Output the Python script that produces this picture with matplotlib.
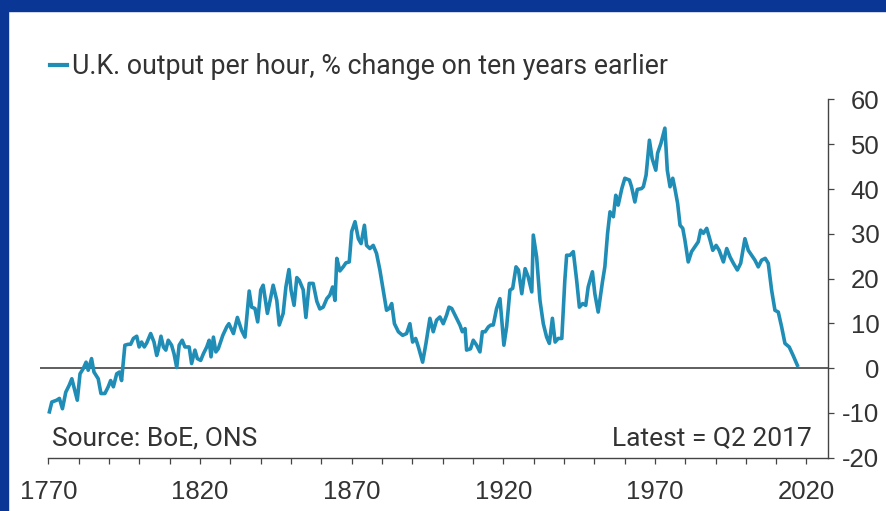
import matplotlib
matplotlib.use("Agg")
import matplotlib.pyplot as plt
from matplotlib.patches import Rectangle
from matplotlib.lines import Line2D

plt.rcParams['axes.unicode_minus'] = False

years = [1770.3, 1771.1, 1772.7, 1773.6, 1774.6, 1775.7, 1776.8, 1777.7, 1779.5, 1780.4,
         1781.5, 1782.4, 1783.1, 1784.2, 1785.0, 1786.4, 1787.3, 1788.6, 1789.7, 1790.5,
         1791.4, 1792.5, 1793.4, 1794.1, 1795.2, 1796.3, 1797.1, 1798.0, 1799.1, 1799.9,
         1800.7, 1801.6, 1802.4, 1803.7, 1804.8, 1805.7, 1806.2, 1807.1, 1807.9, 1808.7,
         1809.5, 1810.6, 1811.4, 1812.3, 1813.1, 1814.1, 1815.0, 1816.4, 1817.2, 1818.3,
         1819.1, 1820.2, 1821.1, 1822.2, 1823.0, 1823.6, 1824.4, 1825.2, 1826.0, 1827.5,
         1828.8, 1829.5, 1831.0, 1832.3, 1833.7, 1834.8, 1836.2, 1837.0, 1838.1, 1839.0,
         1840.0, 1840.8, 1842.2, 1843.1, 1844.1, 1845.3, 1846.1, 1847.4, 1848.3, 1849.3,
         1850.0, 1851.0, 1851.9, 1852.7, 1854.0, 1854.9, 1856.0, 1857.3, 1858.5, 1859.5,
         1860.6, 1861.8, 1862.8, 1863.7, 1864.5, 1865.1, 1866.1, 1867.2, 1868.1, 1869.2,
         1870.0, 1871.1, 1872.2, 1873.1, 1874.2, 1874.9, 1876.0, 1877.1, 1878.2, 1879.3,
         1880.4, 1881.5, 1882.4, 1883.2, 1884.1, 1885.4, 1886.8, 1888.1, 1889.2, 1890.1,
         1891.1, 1892.0, 1893.4, 1894.5, 1895.8, 1896.9, 1898.0, 1899.1, 1900.2, 1901.3,
         1902.1, 1903.0, 1904.1, 1905.2, 1905.7, 1906.5, 1907.4, 1907.9, 1909.2, 1910.1,
         1911.2, 1912.3, 1913.1, 1914.0, 1915.1, 1915.9, 1916.7, 1917.8, 1918.9, 1920.2,
         1921.1, 1922.2, 1923.1, 1924.2, 1925.0, 1926.1, 1927.2, 1928.2, 1929.4, 1929.9,
         1931.0, 1932.1, 1933.2, 1934.3, 1935.2, 1936.2, 1937.1, 1938.1, 1939.3, 1940.3,
         1940.9, 1942.0, 1943.1, 1944.2, 1945.1, 1946.2, 1947.2, 1948.0, 1949.4, 1950.2,
         1951.3, 1952.7, 1953.5, 1954.4, 1955.2, 1956.3, 1957.1, 1957.9, 1959.1, 1960.1,
         1961.6, 1962.3, 1963.4, 1964.2, 1965.6, 1966.2, 1967.1, 1968.2, 1969.1, 1970.3,
         1970.9, 1972.0, 1973.3, 1974.1, 1975.0, 1975.9, 1976.6, 1977.5, 1978.3, 1979.2,
         1979.9, 1981.0, 1982.1, 1983.2, 1984.3, 1985.1, 1986.0, 1987.1, 1988.2, 1989.1,
         1990.2, 1991.2, 1992.6, 1993.7, 1994.8, 1995.9, 1997.2, 1998.3, 1999.7, 2000.8,
         2001.9, 2003.0, 2004.1, 2005.2, 2006.4, 2007.4, 2008.5, 2009.6, 2010.7, 2011.8,
         2012.9, 2014.3, 2015.6, 2017.0]

values = [-9.8, -7.6, -7.2, -6.8, -9.1, -5.4, -3.9, -2.4, -7.2, -1.3,
          -0.1, 1.3, -0.5, 2.1, -0.9, -2.4, -5.7, -5.7, -4.2, -2.8,
          -4.2, -1.3, -0.9, -2.8, 5.1, 5.3, 5.3, 6.6, 7.1, 4.7,
          5.8, 4.7, 5.6, 7.7, 5.8, 2.8, 4.0, 7.1, 4.7, 4.0,
          6.2, 5.1, 3.2, 0.1, 5.1, 6.2, 4.7, 4.7, 1.0, 4.0,
          2.1, 1.7, 3.2, 4.7, 6.2, 2.5, 6.9, 3.6, 4.3, 7.3,
          9.2, 9.9, 7.7, 11.3, 8.4, 6.9, 17.2, 13.6, 13.3, 10.3,
          17.4, 18.5, 12.2, 15.1, 18.5, 15.1, 9.6, 12.2, 18.1, 22.0,
          17.4, 14.0, 20.2, 19.6, 17.5, 11.3, 18.9, 18.9, 14.9, 13.2,
          13.6, 15.5, 16.3, 18.1, 15.1, 24.5, 21.7, 22.6, 23.5, 23.7,
          30.5, 32.7, 28.9, 27.8, 31.9, 27.4, 26.7, 27.4, 25.6, 21.9,
          17.4, 12.9, 13.3, 14.4, 9.9, 8.1, 7.3, 7.7, 9.9, 5.8,
          6.6, 4.7, 1.3, 5.5, 11.1, 8.1, 10.7, 11.4, 9.9, 11.8,
          13.6, 13.3, 11.8, 10.3, 9.6, 8.1, 8.8, 4.0, 4.3, 6.2,
          5.1, 3.6, 8.1, 8.1, 9.2, 9.6, 9.6, 13.3, 15.5, 5.1,
          9.2, 17.4, 17.8, 22.6, 21.9, 16.6, 22.2, 20.4, 17.0, 29.7,
          24.8, 15.1, 9.9, 6.9, 5.5, 11.1, 5.8, 6.6, 6.6, 19.6,
          25.2, 25.2, 26.0, 19.6, 13.6, 14.4, 14.0, 18.1, 21.5, 16.6,
          12.5, 19.2, 22.6, 30.1, 34.9, 33.8, 38.6, 36.4, 40.1, 42.4,
          42.0, 40.5, 37.1, 39.9, 40.1, 40.5, 43.1, 50.9, 46.8, 44.2,
          48.0, 50.2, 53.6, 44.2, 40.5, 42.4, 40.1, 36.8, 31.9, 31.2,
          28.6, 23.7, 26.0, 27.1, 28.2, 30.8, 30.1, 31.2, 28.6, 26.3,
          27.4, 26.3, 23.7, 26.7, 24.8, 23.4, 21.9, 23.4, 28.9, 26.3,
          25.2, 24.1, 22.6, 24.1, 24.5, 23.4, 17.4, 12.9, 12.5, 9.2,
          5.5, 4.7, 2.8, 0.6]

x_ticks_minor = list(range(1770, 2021, 10))
x_tick_labels = [1770, 1820, 1870, 1920, 1970, 2020]
y_ticks = [-20, -10, 0, 10, 20, 30, 40, 50, 60]

series_label = "U.K. output per hour, % change on ten years earlier"
source_text = "Source: BoE, ONS"
latest_text = "Latest = Q2 2017"

LINE = '#1f8db6'
TXT = '#333333'
NARROW = ['Roboto', 'DejaVu Sans']

W, H = 886, 511
fig = plt.figure(figsize=(W / 100, H / 100), dpi=100, facecolor='white')

# blue frame (top and left)
fig.patches.append(Rectangle((0, 1 - 11 / H), 1, 11 / H, transform=fig.transFigure,
                             color='#0a3796', zorder=0))
fig.patches.append(Rectangle((0, 0), 8 / W, 1, transform=fig.transFigure,
                             color='#0a3796', zorder=0))

ax = fig.add_axes([40 / W, (H - 457.5) / H, 788 / W, 358 / H])
ax.set_facecolor('none')
ax.plot(years, values, color=LINE, lw=2.6, solid_joinstyle='round', zorder=3)
ax.axhline(0, color='#333333', lw=1.1, zorder=2)

ax.set_xlim(1767.2, 2027.1)
ax.set_ylim(-20, 60)

for s in ['top', 'left']:
    ax.spines[s].set_visible(False)
ax.spines['bottom'].set_bounds(1770, 2027.1)
ax.spines['bottom'].set_color('#444444')
ax.spines['right'].set_color('#444444')
ax.spines['bottom'].set_linewidth(1.0)
ax.spines['right'].set_linewidth(1.0)

ax.set_xticks(x_ticks_minor)
ax.set_xticklabels([str(t) if t in x_tick_labels else '' for t in x_ticks_minor])
ax.tick_params(axis='x', direction='out', length=4, width=0.9, color='#444444',
               pad=12, labelsize=18.5, labelcolor=TXT)

ax.yaxis.tick_right()
ax.set_yticks(y_ticks)
ax.set_yticklabels([str(v) for v in y_ticks])
ax.tick_params(axis='y', direction='out', length=4, width=0.9, color='#444444',
               pad=33, labelsize=18.5, labelcolor=TXT)
for lab in ax.get_yticklabels():
    lab.set_horizontalalignment('right')

for lab in ax.get_xticklabels() + ax.get_yticklabels():
    lab.set_fontfamily('Liberation Sans')

# legend-like header
fig.add_artist(Line2D([50 / W, 67 / W], [(H - 65) / H] * 2, transform=fig.transFigure,
                      color=LINE, lw=3.0))
fig.text(72 / W, (H - 66) / H, series_label, ha='left', va='center',
         fontsize=19.3, color=TXT, family=NARROW)

ax.text(52 / W, (H - 438) / H, source_text, transform=fig.transFigure, ha='left',
        va='center', fontsize=19, color=TXT, family=NARROW)
ax.text(812 / W, (H - 438) / H, latest_text, transform=fig.transFigure, ha='right',
        va='center', fontsize=19, color=TXT, family=NARROW)

fig.savefig('out.png', dpi=100, facecolor='white')
